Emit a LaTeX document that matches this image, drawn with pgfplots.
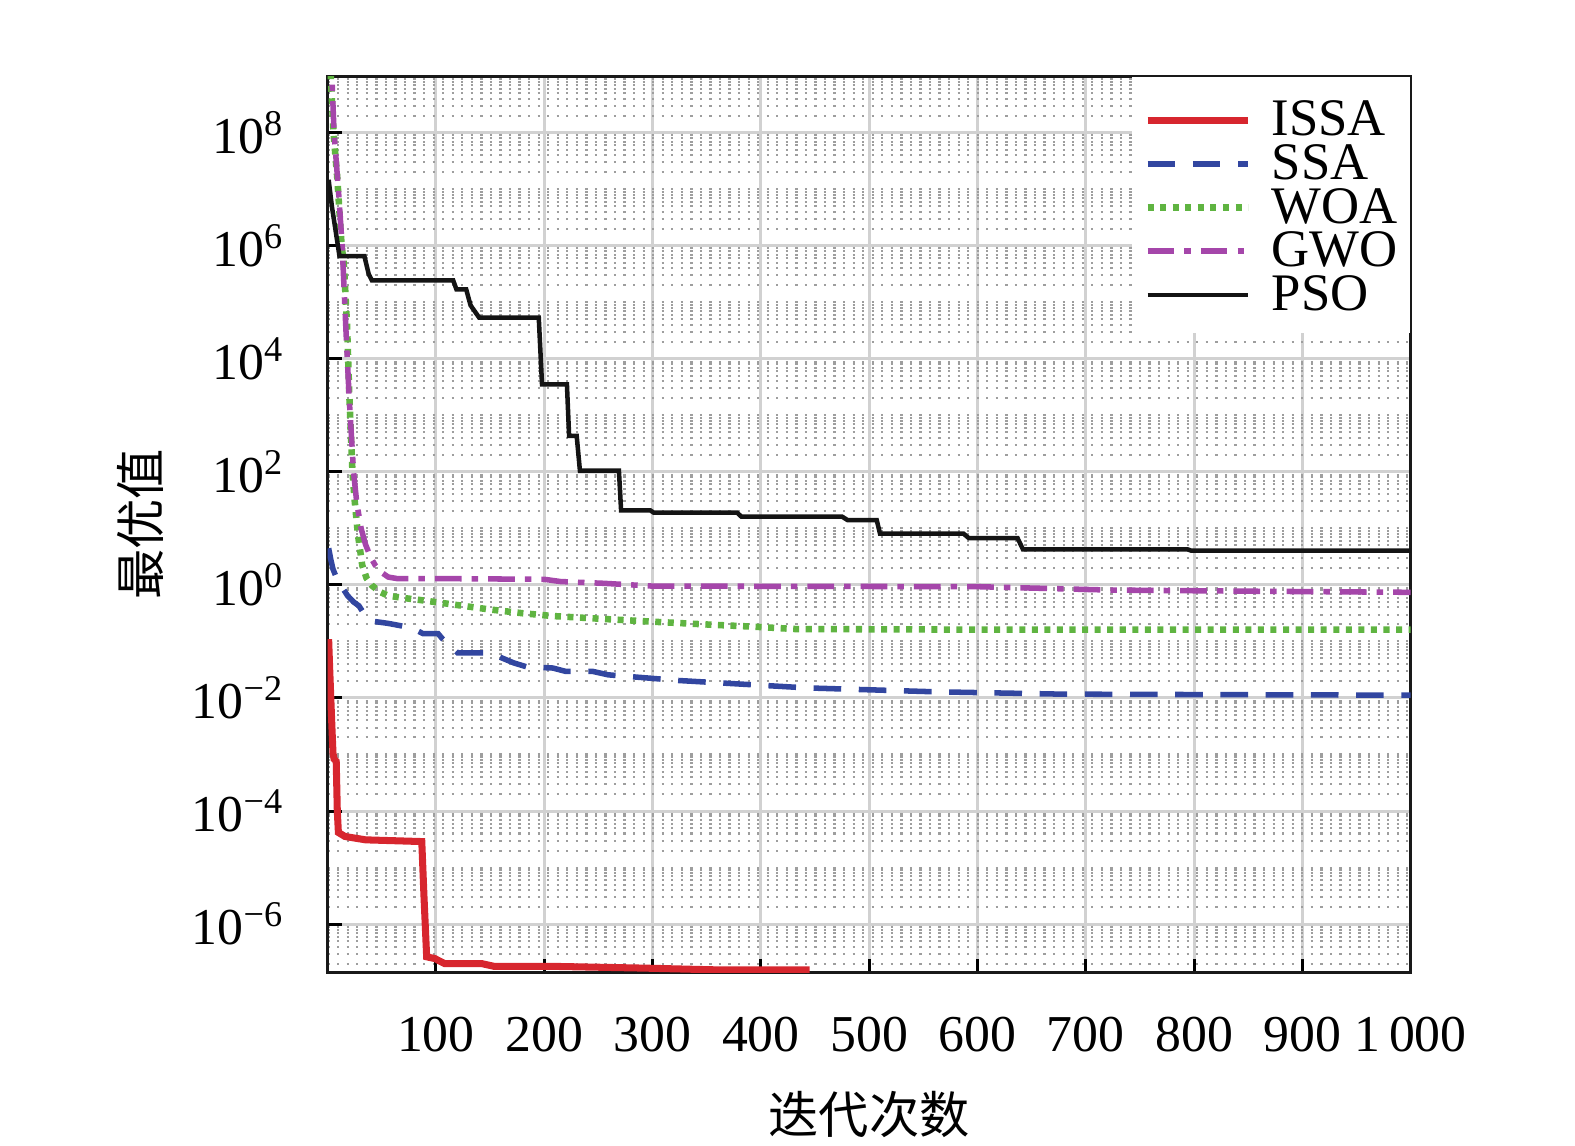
\documentclass[border=0pt]{standalone}
\usepackage{fontspec}
\setmainfont{Liberation Serif}
\newfontfamily\cjk{Noto Sans CJK SC}
\usepackage{pgfplots}
\pgfplotsset{compat=1.18}
\definecolor{cissa}{RGB}{215,38,46}
\definecolor{cssa}{RGB}{50,70,160}
\definecolor{cwoa}{RGB}{95,180,65}
\definecolor{cgwo}{RGB}{165,70,170}
\definecolor{cpso}{RGB}{20,20,20}
\begin{document}
\begin{tikzpicture}
\begin{axis}[name=ax, at={(0,0)}, anchor=south west,
  scale only axis, width=215.6pt, height=178.4pt,
  xmin=0, xmax=1000, ymode=log, ymin=1.38e-7, ymax=1e9,
  xtick={100,200,300,400,500,600,700,800,900,1000},
  xticklabels={100,200,300,400,500,600,700,800,900,1\,000},
  ytick={1e-6,1e-4,1e-2,1,1e2,1e4,1e6,1e8},
  yticklabels={10\textsuperscript{−6},10\textsuperscript{−4},10\textsuperscript{−2},10\textsuperscript{0},10\textsuperscript{2},10\textsuperscript{4},10\textsuperscript{6},10\textsuperscript{8}},
  minor ytick={2e-7,3e-7,4e-7,5e-7,6e-7,7e-7,8e-7,9e-7,
   1e-6,2e-6,3e-6,4e-6,5e-6,6e-6,7e-6,8e-6,9e-6,
   1e-5,2e-5,3e-5,4e-5,5e-5,6e-5,7e-5,8e-5,9e-5,
   2e-4,3e-4,4e-4,5e-4,6e-4,7e-4,8e-4,9e-4,
   1e-3,2e-3,3e-3,4e-3,5e-3,6e-3,7e-3,8e-3,9e-3,
   2e-2,3e-2,4e-2,5e-2,6e-2,7e-2,8e-2,9e-2,
   1e-1,2e-1,3e-1,4e-1,5e-1,6e-1,7e-1,8e-1,9e-1,
   2,3,4,5,6,7,8,9,
   10,20,30,40,50,60,70,80,90,
   200,300,400,500,600,700,800,900,
   1e3,2e3,3e3,4e3,5e3,6e3,7e3,8e3,9e3,
   2e4,3e4,4e4,5e4,6e4,7e4,8e4,9e4,
   1e5,2e5,3e5,4e5,5e5,6e5,7e5,8e5,9e5,
   2e6,3e6,4e6,5e6,6e6,7e6,8e6,9e6,
   1e7,2e7,3e7,4e7,5e7,6e7,7e7,8e7,9e7,
   2e8,3e8,4e8,5e8,6e8,7e8,8e8,9e8},
  xmajorgrids, ymajorgrids, yminorgrids,
  major grid style={black!18, line width=0.6pt},
  minor grid style={black!38, line width=0.4pt, dash pattern=on 0.45pt off 1.45pt},
  tick align=inside, xtick pos=bottom, ytick pos=left,
  major tick length=2.8pt, minor tick length=0pt,
  tick style={black, line width=0.6pt},
  axis line style={line width=0.6pt, black!90},
  ticklabel style={font=\fontsize{10.3}{12}\selectfont},
  xticklabel style={yshift=-5.4pt},
  yticklabel style={xshift=-5pt},
  xlabel={\cjk 迭代次数}, ylabel={\cjk 最优值},
  label style={font=\fontsize{10}{12}\selectfont},
  xlabel style={at={(axis description cs:0.5,-0.158)}, anchor=center},
  ylabel style={at={(axis description cs:-0.1725,0.5)}, anchor=center},
  legend style={at={(1,1)}, anchor=north east, draw=none, fill=white,
    inner xsep=2.4pt, inner ysep=4.4pt, row sep=1.5pt, column sep=4pt,
    font=\fontsize{10.5}{10.5}\selectfont,
    nodes={inner sep=0pt, text height=7.2pt, text depth=0pt}},
  legend cell align=left,
  legend image code/.code={\draw[#1] (0pt,-0.5pt) -- (20pt,-0.5pt);},
  no markers,
  clip=true,
]
\addplot[color=cissa, line width=1.4pt] coordinates {
 (1,0.11) (2,0.0316) (3,0.01) (4,0.00316) (5,0.00107) (6,8.3e-4) (8,7.6e-4)
 (9,1e-4) (10,4.17e-5) (16,3.55e-5) (35,3.09e-5) (87,2.88e-5) (89,3.16e-6)
 (91.5,2.63e-7) (99,2.45e-7) (108,2.0e-7) (142,2.0e-7) (154,1.78e-7) (210,1.78e-7)
 (292,1.66e-7) (357,1.55e-7) (445,1.55e-7)
};
\addlegendentry{ISSA}
\addplot[color=cssa, line width=1.1pt, dash pattern=on 5.5pt off 3.5pt] coordinates {
 (1,4.47) (3,2.82) (5,1.91) (8,1.38) (12,1.0) (18.5,0.646) (24,0.501) (29,0.427)
 (35,0.282) (41,0.229) (56,0.209) (78,0.174) (88,0.138) (102,0.138) (106,0.112)
 (110,0.0955) (120,0.0631) (145,0.0631) (157,0.055) (172,0.0417) (184,0.0355)
 (208,0.0339) (220,0.0295) (245,0.0295) (259,0.0257) (324,0.0204) (442,0.0151)
 (559,0.0129) (677,0.0117) (1000,0.0112)
};
\addlegendentry{SSA}
\addplot[color=cwoa, line width=1.3pt, dash pattern=on 1.2pt off 1.3pt] coordinates {
 (1,3.16e9) (3,1e9) (5.5,1e8) (9,1.58e7) (13,1e6) (15,5.0e5) (18,3.98e4) (20,2.51e3)
 (23,100) (25,31.6) (28,7.94) (32,2.24) (36,1.32) (41,0.977) (48,0.759) (56,0.646)
 (70,0.589) (87,0.537) (110,0.468) (148,0.372) (180,0.316) (208,0.282) (254,0.251)
 (300,0.224) (350,0.2) (395,0.182) (432,0.166) (600,0.162) (1000,0.162)
};
\addlegendentry{WOA}
\addplot[color=cgwo, line width=1.1pt, dash pattern=on 5.3pt off 2pt on 1.3pt off 2pt] coordinates {
 (1,3.16e9) (4,1e9) (6,1e8) (10,1e7) (13.5,1e6) (17,3.16e4) (20,2.0e3) (24,100)
 (27,28.2) (31,10) (35,5.25) (40,3.02) (44,2.24) (50,1.66) (56,1.38) (65,1.29)
 (120,1.29) (200,1.26) (215,1.15) (255,1.07) (300,0.955) (600,0.933) (722,0.813)
 (850,0.776) (1000,0.741)
};
\addlegendentry{GWO}
\addplot[color=cpso, line width=0.9pt] coordinates {
 (1,1.48e7) (4,5.0e6) (8,1.58e6) (11,6.6e5) (34,6.6e5) (38,3.16e5) (41,2.45e5)
 (116,2.45e5) (119,1.7e5) (128,1.7e5) (132,8.9e4) (140,5.37e4) (195,5.37e4)
 (198,3548) (221,3548) (223,436) (230,436) (233,105) (269,105) (271,20.9)
 (298,20.9) (301,19.1) (378,19.1) (382,16.2) (475,16.2) (480,14.1) (507,14.1)
 (510,8.13) (587,8.13) (592,6.76) (637,6.76) (642,4.27) (794,4.27) (797,4.07)
 (1000,4.07)
};
\addlegendentry{PSO}
\end{axis}
\pgfresetboundingbox
\path[use as bounding box] (-65.2pt,-34.5pt) rectangle (248.3pt,193.6pt);
\end{tikzpicture}
\end{document}
